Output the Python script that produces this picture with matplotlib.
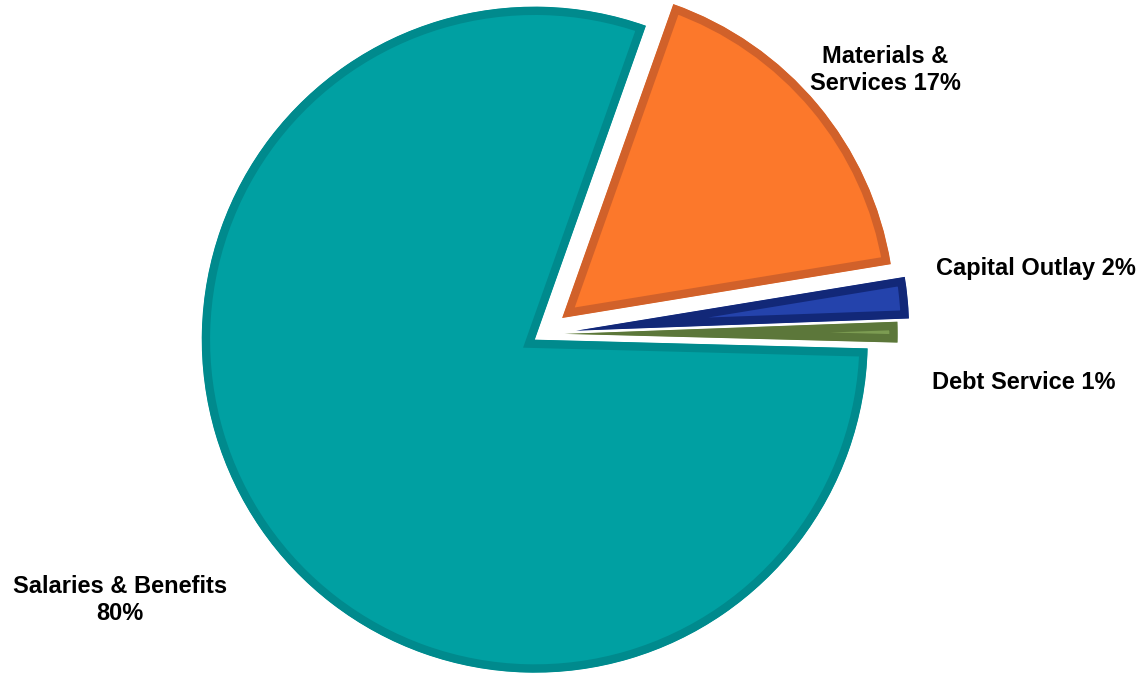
import matplotlib
matplotlib.use("Agg")
import matplotlib.pyplot as plt

# ---- data ----
categories = ["Materials & Services", "Capital Outlay", "Debt Service", "Salaries & Benefits"]
values = [17, 2, 1, 80]
label_texts = ["Materials &\nServices 17%", "Capital Outlay 2%", "Debt Service 1%", "Salaries & Benefits\n80%"]

face_colors = ["#FC782B", "#2443AC", "#7C9C52", "#00A0A2"]
rim_colors = ["#D1612A", "#122878", "#5C773A", "#008A8D"]
explode = [0.075, 0.10, 0.065, 0.03]

W, H, DPI = 1146, 675, 100
fig = plt.figure(figsize=(W / DPI, H / DPI), dpi=DPI)
ax = fig.add_axes([0, 0, 1, 1])

R_PX = 333.0
CX, CY = 543.0, 334.0

wedges, _ = ax.pie(values, explode=explode, startangle=70.5, counterclock=False,
                   colors=face_colors, radius=1.0,
                   wedgeprops=dict(linewidth=12, edgecolor="none"))
for w, rc in zip(wedges, rim_colors):
    w.set_edgecolor(rc)
    w.set_clip_path(w)
    w.set_clip_on(True)

ax.set_xlim(-CX / R_PX, (W - CX) / R_PX)
ax.set_ylim((CY - H) / R_PX, CY / R_PX)
ax.set_aspect("auto")
ax.axis("off")

font = dict(family=["Liberation Sans", "DejaVu Sans"], fontsize=17, fontweight="bold", color="black")
fig.text(885 / W, 1 - 70 / H, label_texts[0], ha="center", va="center", linespacing=1.2, **font)
fig.text(936 / W, 1 - 268 / H, label_texts[1], ha="left", va="center", **font)
fig.text(932 / W, 1 - 383 / H, label_texts[2], ha="left", va="center", **font)
fig.text(120 / W, 1 - 600 / H, label_texts[3], ha="center", va="center", linespacing=1.2, **font)

fig.savefig("out.png", dpi=DPI, facecolor="white")
